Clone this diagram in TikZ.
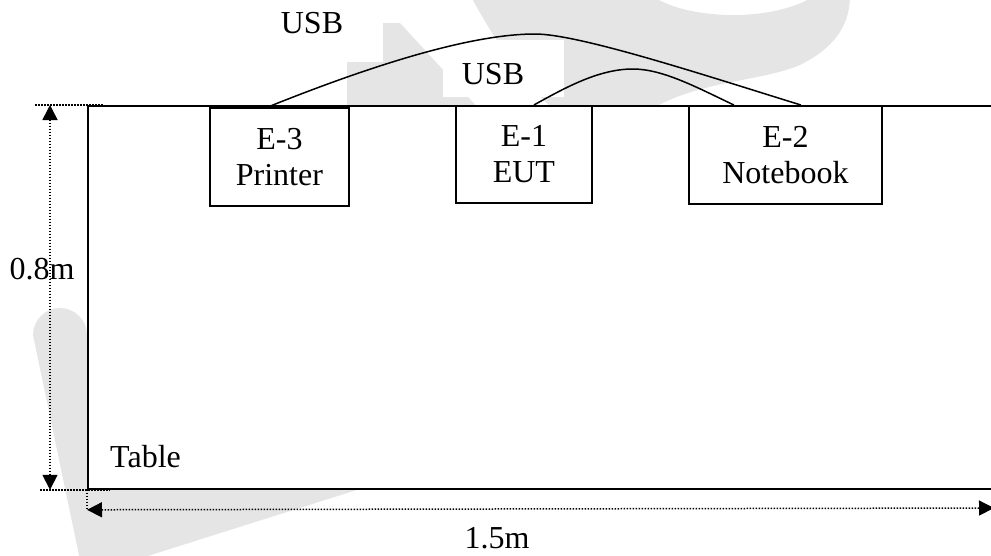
\documentclass[tikz,border=0pt]{standalone}
\usepackage{fontspec}
\setmainfont{Liberation Serif}
\usetikzlibrary{arrows.meta,calc}
\tikzset{
  wm/.style={fill=black!10},
  tablebox/.style={draw, line width=1.8pt, fill=white, inner sep=0pt, anchor=north west},
  devbox/.style={draw, line width=1.8pt, fill=white, align=center, inner sep=0pt, anchor=north west},
  cable/.style={line width=1.5pt},
  dimline/.style={line width=1.5pt, dash pattern=on 1.5pt off 1.5pt},
  dimarrow/.style={dimline, {Triangle[length=15pt,width=15pt]}-{Triangle[length=15pt,width=15pt]}},
  lbl/.style={inner sep=0pt, anchor=base},
}
\begin{document}
\begin{tikzpicture}[x=1pt,y=-1pt, font=\fontsize{32}{36}\selectfont]
\useasboundingbox (0,0) rectangle (991,555);
% faint watermark
\fill[wm] (33,335) arc[start angle=180, end angle=360, radius=27] -- (87,480) -- (363,488) -- (135,560) -- (80,560) -- cycle;
\fill[wm] (383,23) -- (400,23) -- (480,110) -- (347,110) -- (347,62) -- (383,62) -- cycle;
\fill[wm, even odd rule] (470,-5) .. controls (500,50) and (530,90) .. (555,110) -- (650,110) .. controls (700,80) and (760,82) .. (800,65) .. controls (840,45) and (850,20) .. (850,-5) -- cycle (733,-25) ellipse [x radius=95, y radius=40];
\fill[white] (443,40) rectangle (564,97);
% table
\node[tablebox, minimum width=930pt, minimum height=383pt] (table) at (87,105) {};
% devices
\node[devbox, minimum width=139pt, minimum height=98pt] (e3) at (209,107) {E-3\\Printer};
\node[devbox, minimum width=136pt, minimum height=97pt] (e1) at (455,105) {E-1\\EUT};
\node[devbox, minimum width=193pt, minimum height=98pt] (e2) at (688,105) {E-2\\Notebook};
% cables
\draw[cable] ([xshift=-11.5pt]e3.north) .. controls (370,66) and (470,34) .. (535,34)
  .. controls (580,34) and (710,77) .. ([xshift=15.5pt]e2.north);
\draw[cable] ([xshift=10pt]e1.north) .. controls (568,86) and (600,69) .. (633,69)
  .. controls (663,69) and (698,88) .. ([xshift=-51.5pt]e2.north);
% labels
\node[lbl] (usb1) at (312,33) {USB};
\node[lbl] (usb2) at (493,84) {USB};
\node[lbl] (dimv) at (42,279) {0.8m};
\node[lbl, anchor=base west] (tablelbl) at (110,467) {Table};
\node[lbl] (dimh) at (497,548) {1.5m};
% dimensions
\draw[dimline] ([xshift=-52pt]table.north west) -- ([xshift=16pt]table.north west);
\draw[dimline] ([xshift=-47pt]table.south west) -- ([xshift=23pt]table.south west);
\draw[dimline] (table.south west) -- ([yshift=-20pt]table.south west);
\draw[dimarrow] ([xshift=-37pt]table.north west) -- ([xshift=-37pt]table.south west);
\coordinate (dimend) at (994,508);
\draw[dimarrow] ([yshift=-20pt]table.south west) -- (dimend);
\end{tikzpicture}
\end{document}
